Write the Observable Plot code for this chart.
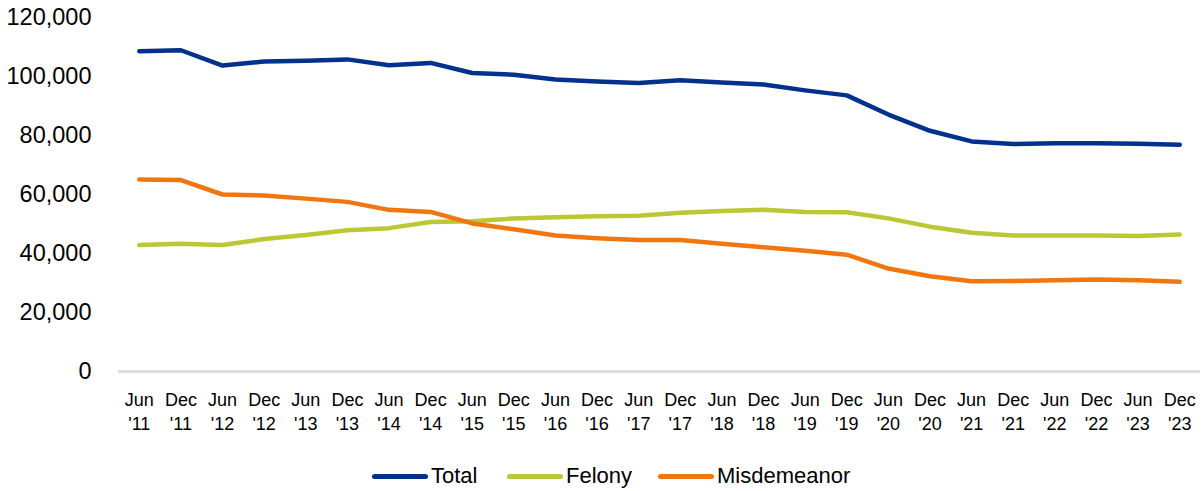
<!DOCTYPE html>
<html>
<head>
<meta charset="utf-8">
<script src="https://cdn.jsdelivr.net/npm/d3@7"></script>
<script src="https://cdn.jsdelivr.net/npm/@observablehq/plot@0.6"></script>
<style>
  body { margin: 0; background: #fff; font-family: "Liberation Sans", Arial, sans-serif; }
  #wrap { position: relative; width: 1204px; height: 491px; }
  #legend { position: absolute; left: 0; width: 1204px; top: 462px; height: 28px; font-size: 22px; color: #000; }
  .item { position: absolute; top: 0; height: 28px; display: flex; align-items: center; white-space: nowrap; }
  .sw { width: 56px; height: 5px; border-radius: 3px; margin-right: 3px; }
</style>
</head>
<body>
<div id="wrap">
  <div id="chart"></div>
  <div id="legend"></div>
</div>
<script>
const periods = ["Jun '11","Dec '11","Jun '12","Dec '12","Jun '13","Dec '13","Jun '14","Dec '14","Jun '15","Dec '15","Jun '16","Dec '16","Jun '17","Dec '17","Jun '18","Dec '18","Jun '19","Dec '19","Jun '20","Dec '20","Jun '21","Dec '21","Jun '22","Dec '22","Jun '23","Dec '23"];
const total = [108600,108900,103700,105100,105300,105800,103800,104600,101200,100600,99000,98300,97800,98700,98000,97300,95300,93600,87100,81600,78000,77100,77400,77400,77200,76900];
const felony = [42900,43300,42900,44900,46300,47900,48600,50700,50900,51900,52300,52600,52800,53800,54400,54800,54100,54000,51900,49100,47000,46100,46100,46100,45900,46400];
const misdemeanor = [65100,64900,60000,59700,58600,57500,54800,54100,50200,48200,46100,45200,44600,44600,43300,42100,40900,39600,34900,32300,30600,30700,30900,31200,30900,30400];
const seriesNames = ["Total","Felony","Misdemeanor"];
const seriesColors = ["#00318C","#BBC733","#F07610"];
const yTicks = [0,20000,40000,60000,80000,100000,120000];

const seriesValues = [total, felony, misdemeanor];
const rows = [];
seriesNames.forEach((name, i) => {
  periods.forEach((p, j) => rows.push({series: name, period: p, value: seriesValues[i][j]}));
});

const chart = Plot.plot({
  width: 1204,
  height: 440,
  marginLeft: 118,
  marginRight: 4,
  marginTop: 17,
  marginBottom: 69,
  style: {fontFamily: "'Liberation Sans', Arial, sans-serif", color: "#000", background: "#fff"},
  x: {type: "point", domain: periods, padding: 0.5, round: false},
  y: {domain: [0, 120000]},
  color: {domain: seriesNames, range: seriesColors},
  marks: [
    Plot.ruleY([0], {stroke: "#D9D9D9", strokeWidth: 2.5}),
    Plot.axisX({
      tickSize: 0, tickPadding: 17, fontSize: 18, lineHeight: 1.35,
      tickFormat: d => d.replace(" ", "\n"), label: null
    }),
    Plot.axisY({
      ticks: yTicks, tickSize: 0, tickPadding: 27, fontSize: 23.5,
      tickFormat: d3.format(","), label: null
    }),
    Plot.line(rows, {
      x: "period", y: "value", z: "series", stroke: "series",
      strokeWidth: 4.5, strokeLinecap: "round", strokeLinejoin: "round"
    })
  ]
});
document.getElementById("chart").appendChild(chart);

const legendLeft = [372, 507, 658];
const legend = document.getElementById("legend");
seriesNames.forEach((name, i) => {
  const item = document.createElement("div");
  item.className = "item";
  item.style.left = legendLeft[i] + "px";
  const sw = document.createElement("div");
  sw.className = "sw";
  sw.style.background = seriesColors[i];
  const t = document.createElement("span");
  t.textContent = name;
  item.appendChild(sw);
  item.appendChild(t);
  legend.appendChild(item);
});
</script>
</body>
</html>
